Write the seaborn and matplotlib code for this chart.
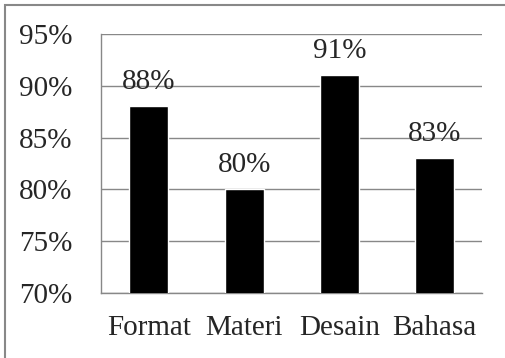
import pandas as pd
import matplotlib
matplotlib.use('Agg')
import matplotlib.pyplot as plt
import seaborn as sns
from matplotlib.patches import Rectangle
from matplotlib.ticker import FuncFormatter

# data dari grafik
aspek = ['Format', 'Materi', 'Desain', 'Bahasa']
nilai = [88, 80, 91, 83]

df = pd.DataFrame({'aspek': aspek, 'nilai': nilai})

sns.set_style('white')
plt.rcParams['font.family'] = ['Liberation Serif', 'DejaVu Serif']

fig = plt.figure(figsize=(5.06, 3.58), dpi=100)
ax = fig.add_axes([0.2, 0.182, 0.753, 0.723])

sns.barplot(x='aspek', y='nilai', data=df, color='black', width=0.41, ax=ax,
            saturation=1, zorder=3)

ax.set_ylim(70, 95)
ax.set_yticks([70, 75, 80, 85, 90, 95])
ax.yaxis.set_major_formatter(FuncFormatter(lambda v, p: f'{v:.0f}%'))
ax.grid(axis='y', color='#888888', linewidth=1, zorder=0)
ax.set_axisbelow(True)
ax.set_xlabel('')
ax.set_ylabel('')

for s in ['top', 'right']:
    ax.spines[s].set_visible(False)
for s in ['left', 'bottom']:
    ax.spines[s].set_color('#888888')
    ax.spines[s].set_linewidth(1)

ax.tick_params(axis='y', length=0, pad=21, labelsize=21)
ax.tick_params(axis='x', length=0, pad=16, labelsize=21)

# label di atas batang
for i, v in enumerate(nilai):
    ax.annotate(f'{v}%', xy=(i, v), xytext=(0, 12.5), textcoords='offset points',
                ha='center', va='baseline', fontsize=21, zorder=5)

# bingkai luar
fig.patches.append(Rectangle((5 / 506, -0.1), 1.2, 1.1 - 5 / 358,
                             transform=fig.transFigure, fill=False,
                             edgecolor='#888888', linewidth=1.5))

fig.savefig('out.png', dpi=100)
